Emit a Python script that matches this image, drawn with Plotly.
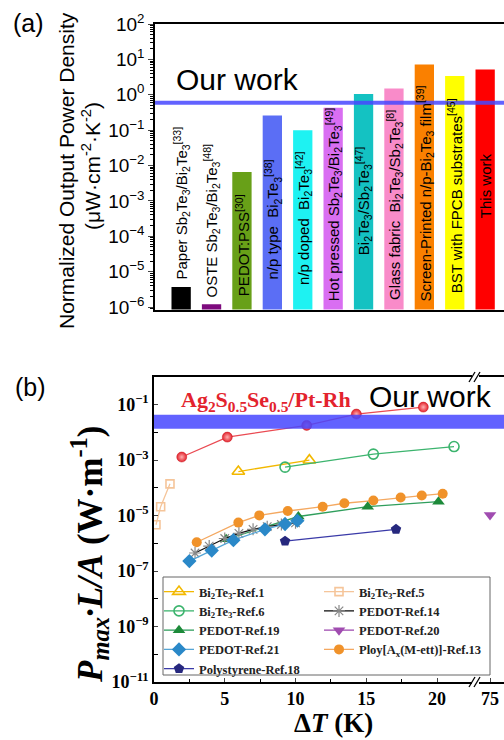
import plotly.graph_objects as go

W, H = 504, 740
def px(x): return x / W
def py(y): return 1 - y / H

SANS = "Liberation Sans, Arial, sans-serif"
SERIF = "Liberation Serif, Times New Roman, serif"

# ---------------- Panel (a) data ----------------
bar_values = [3.7e-6, 1.2e-6, 6.6e-3, 0.26, 0.10, 0.43, 1.05, 1.5, 7.2, 3.4, 5.2]
bar_labels = [
    "Paper Sb<sub>2</sub>Te<sub>3</sub>/Bi<sub>2</sub>Te<sub>3</sub><sup>[33]</sup>",
    "OSTE Sb<sub>2</sub>Te<sub>3</sub>/Bi<sub>2</sub>Te<sub>3</sub><sup>[48]</sup>",
    "PEDOT:PSS<sup>[30]</sup>",
    "n/p type\u00a0 Bi<sub>2</sub>Te<sub>3</sub><sup>[38]</sup>",
    "n/p doped\u00a0 Bi<sub>2</sub>Te<sub>3</sub><sup>[42]</sup>",
    "Hot pressed Sb<sub>2</sub>Te<sub>3</sub>/Bi<sub>2</sub>Te<sub>3</sub><sup>[49]</sup>",
    "Bi<sub>2</sub>Te<sub>3</sub>/Sb<sub>2</sub>Te<sub>3</sub><sup>[47]</sup>",
    "Glass fabric\u00a0 Bi<sub>2</sub>Te<sub>3</sub>/Sb<sub>2</sub>Te<sub>3</sub><sup>[8]</sup>",
    "Screen-Printed n/p-Bi<sub>2</sub>Te<sub>3</sub> film<sup>[39]</sup>",
    "BST with FPCB substrates<sup>[45]</sup>",
    "This work",
]
bar_colors = ["#000000", "#7d0a7d", "#68a018", "#5b6ef5", "#1ef2f2", "#d96ef2",
              "#14c2c2", "#f98bc9", "#fa8000", "#ffff00", "#ff0000"]
# layout: log10 of where each rotated label starts (bottom)
label_base_exp = [-5.29, -5.80, -5.75, -5.27, -5.44, -5.89, -4.59, -5.86, -5.89, -5.66, -2.58]
our_work_a = 0.59
a_tick_exp = [-6, -5, -4, -3, -2, -1, 0, 1, 2]

# ---------------- Panel (b) data ----------------
ag_x = [1.96, 5.18, 10.79, 14.3, 19.03]
ag_y = [1.3e-3, 6.8e-3, 1.8e-2, 4.6e-2, 8.2e-2]
ref1_x = [5.96, 10.98]
ref1_y = [3.9e-4, 1.0e-3]
ref5_x = [0.14, 0.47, 1.13]
ref5_y = [4.7e-6, 2.1e-5, 1.4e-4]
ref6_x = [9.26, 15.5, 21.2]
ref6_y = [5.6e-4, 1.66e-3, 3.1e-3]
ref14_x = [2.9, 3.9, 5.0, 6.0, 7.0, 8.0, 9.0, 10.0]
ref14_y = [4.5e-7, 8e-7, 1.5e-6, 2.3e-6, 3.2e-6, 4e-6, 4.8e-6, 5.5e-6]
ref19_x = [5.1, 10.2, 15.1, 20.1]
ref19_y = [1.4e-6, 9.3e-6, 2.1e-5, 3.2e-5]
ref20_x = [75]
ref20_y = [1.05e-5]
ref21_x = [2.5, 4.08, 5.61, 7.84, 9.26, 10.13]
ref21_y = [2.3e-7, 5.5e-7, 1.3e-6, 3.2e-6, 5e-6, 6.6e-6]
ref13_x = [3.02, 5.96, 7.44, 9.45, 11.92, 13.45, 15.5, 17.43, 18.92, 20.4]
ref13_y = [1.1e-6, 5.6e-6, 1.02e-5, 1.47e-5, 2.1e-5, 2.8e-5, 3.5e-5, 4.5e-5, 5.3e-5, 6.2e-5]
ref18_x = [9.26, 17.1]
ref18_y = [1.2e-6, 3.2e-6]
our_work_b = 0.0245
b_tick_exp = [-11, -9, -7, -5, -3, -1]
b_xticks = [0, 5, 10, 15, 20]
b_xticks_break = [75]

fig = go.Figure()

# ---- bars (a)
fig.add_trace(go.Bar(x=list(range(len(bar_values))), y=bar_values, width=0.635,
                     marker=dict(color=bar_colors, line=dict(width=0)),
                     xaxis="x", yaxis="y", showlegend=False))

# ---- scatter (b)
def sc(x, y, name, color, symbol, size=9, lcolor=None, legend="legend",
       xaxis="x2", mline=None, showlegend=True, gradient=None):
    m = dict(symbol=symbol, size=size, color=color,
             line=mline if mline else dict(color=color, width=1.6))
    if gradient:
        m["gradient"] = gradient
    return go.Scatter(x=x, y=y, name=name, mode="lines+markers", xaxis=xaxis, yaxis="y2",
                      line=dict(color=lcolor or color, width=1.3), marker=m,
                      legend=legend, showlegend=showlegend)

fig.add_trace(sc(ref18_x, ref18_y, "Polystyrene-Ref.18", "#26287e", "pentagon", size=11,
                 lcolor="#3a3aa8", mline=dict(width=0)))
fig.add_trace(sc(ref5_x, ref5_y, "Bi<sub>2</sub>Te<sub>3</sub>-Ref.5", "#f5c59a", "square-open",
                 size=8, legend="legend2"))
fig.add_trace(sc(ref13_x, ref13_y, "Ploy[A<sub>x</sub>(M-ett)]-Ref.13", "#f0922a", "circle",
                 size=10, lcolor="#f4a860", mline=dict(width=0), legend="legend2"))
fig.add_trace(sc(ref19_x, ref19_y, "PEDOT-Ref.19", "#1d8a3a", "triangle-up", size=11,
                 lcolor="#2f9e5c", mline=dict(width=0)))
fig.add_trace(sc(ref14_x, ref14_y, "PEDOT-Ref.14", "#888888", "asterisk-open", size=10,
                 lcolor="#111111", mline=dict(color="#8a8a8a", width=1.2), legend="legend2"))
fig.add_trace(sc(ref21_x, ref21_y, "PEDOT-Ref.21", "#2a88c8", "diamond", size=11,
                 lcolor="#55a5d5", mline=dict(width=0)))
fig.add_trace(sc(ref20_x, ref20_y, "PEDOT-Ref.20", "#a04cb0", "triangle-down", size=11,
                 mline=dict(width=0), legend="legend2", xaxis="x3"))
fig.add_trace(sc(ref1_x, ref1_y, "Bi<sub>2</sub>Te<sub>3</sub>-Ref.1", "#f2b800", "triangle-up-open",
                 size=11))
fig.add_trace(sc(ref6_x, ref6_y, "Bi<sub>2</sub>Te<sub>3</sub>-Ref.6", "#3cb46e", "circle-open",
                 size=10))
fig.add_trace(sc(ag_x, ag_y, "Ag2S0.5Se0.5/Pt-Rh", "#e3222c", "circle", size=10,
                 lcolor="#ea4a52", mline=dict(color="#c81820", width=0.5), showlegend=False,
                 gradient=dict(type="radial", color="#ffb0b0")))

rank1 = {"Bi<sub>2</sub>Te<sub>3</sub>-Ref.1": 1, "Bi<sub>2</sub>Te<sub>3</sub>-Ref.6": 2,
         "PEDOT-Ref.19": 3, "PEDOT-Ref.21": 4, "Polystyrene-Ref.18": 5,
         "Bi<sub>2</sub>Te<sub>3</sub>-Ref.5": 1, "PEDOT-Ref.14": 2, "PEDOT-Ref.20": 3,
         "Ploy[A<sub>x</sub>(M-ett)]-Ref.13": 4}
for tr in fig.data:
    if tr.name in rank1:
        tr.legendrank = rank1[tr.name]

ticktext_a = [f"10<sup>{'−' if e < 0 else ''}{abs(e)}</sup>" for e in a_tick_exp]
ticktext_b = [f"10<sup>−{abs(e)}</sup>" for e in b_tick_exp]
minor_a = [m * 10.0 ** e for e in range(-7, 2) for m in range(2, 10)]
minor_b = [10.0 ** e for e in (-10, -8, -6, -4, -2)]

axfont_a = dict(family=SANS, size=19, color="black")
axfont_b = dict(family=SERIF, size=18, color="black", weight="bold")
legfont = dict(family=SERIF, size=12.5, color="#222", weight="bold")

fig.update_layout(
    width=W, height=H, margin=dict(l=0, r=0, t=0, b=0, pad=0),
    paper_bgcolor="white", plot_bgcolor="white",
    xaxis=dict(domain=[px(155), 1], range=[-0.86, 10.62], showticklabels=False, ticks="",
               showgrid=False, zeroline=False, showline=True, linecolor="black", linewidth=1.5,
               mirror=True, anchor="y", automargin=False),
    yaxis=dict(domain=[py(309.5), py(24)], type="log", range=[-6.07, 2.0], tickmode="array",
               tickvals=[10.0 ** e for e in a_tick_exp], ticktext=ticktext_a,
               ticks="outside", ticklen=5, tickwidth=1.2, tickfont=axfont_a,
               showgrid=False, zeroline=False, showline=True, linecolor="black", linewidth=1.5,
               minor=dict(tickmode="array", tickvals=minor_a, ticks="outside", ticklen=3,
                          tickwidth=0.8, tickcolor="black"),
               anchor="x", automargin=False),
    xaxis2=dict(domain=[px(154), px(472)], range=[0, 22.47], tickmode="array", tickvals=b_xticks,
                ticks="inside", ticklen=4, tickfont=axfont_b, showgrid=False, zeroline=False,
                showline=True, linecolor="black", linewidth=1.5, mirror=True, anchor="y2",
                minor=dict(tickmode="array", tickvals=[2.5, 7.5, 12.5, 17.5], ticks="inside",
                           ticklen=3, tickcolor="black"), automargin=False),
    xaxis3=dict(domain=[px(479), 1], range=[74.22, 75.99], tickmode="array", tickvals=b_xticks_break,
                ticks="inside", ticklen=4, tickfont=axfont_b, showgrid=False, zeroline=False,
                showline=True, linecolor="black", linewidth=1.5, mirror=True, anchor="y2",
                automargin=False),
    yaxis2=dict(domain=[py(682), py(377)], type="log", range=[-11, 0], tickmode="array",
                tickvals=[10.0 ** e for e in b_tick_exp], ticktext=ticktext_b,
                ticks="inside", ticklen=4, tickfont=axfont_b, showgrid=False, zeroline=False,
                showline=True, linecolor="black", linewidth=1.5, anchor="x2",
                minor=dict(tickmode="array", tickvals=minor_b, ticks="inside", ticklen=4,
                           tickcolor="black"), automargin=False),
    legend=dict(x=px(159), y=py(577), xanchor="left", yanchor="top", bgcolor="rgba(0,0,0,0)",
                font=legfont, itemwidth=30, tracegroupgap=0, traceorder="normal"),
    legend2=dict(x=px(319), y=py(577), xanchor="left", yanchor="top", bgcolor="rgba(0,0,0,0)",
                 font=legfont, itemwidth=30, tracegroupgap=0, traceorder="normal"),
)

shapes = []
shapes.append(dict(type="line", xref="paper", yref="y", x0=px(155), x1=1, y0=our_work_a, y1=our_work_a,
                   line=dict(color="rgba(70,70,255,0.85)", width=4)))
shapes.append(dict(type="line", xref="paper", yref="y2", x0=px(154), x1=1, y0=our_work_b, y1=our_work_b,
                   line=dict(color="rgba(70,70,255,0.85)", width=14)))
shapes.append(dict(type="rect", xref="paper", yref="paper", x0=px(163), x1=px(490), y0=py(675), y1=py(577),
                   line=dict(color="#666", width=1)))
for yy in (377, 682):
    for dx in (0, 5):
        shapes.append(dict(type="line", xref="paper", yref="paper",
                           x0=px(469 + dx), x1=px(475 + dx), y0=py(yy + 5), y1=py(yy - 5),
                           line=dict(color="black", width=1.3)))
fig.update_layout(shapes=shapes)

def A(x, y, text, size, family=SANS, angle=0, color="black", weight=None, xanchor="center"):
    f = dict(family=family, size=size, color=color)
    if weight:
        f["weight"] = weight
    return dict(x=px(x), y=py(y), xref="paper", yref="paper", text=text, showarrow=False,
                textangle=angle, xanchor=xanchor, yanchor="middle", font=f)

ann = []
for i, lab in enumerate(bar_labels):
    ann.append(dict(x=i, y=label_base_exp[i], xref="x", yref="y", text=lab, showarrow=False,
                    textangle=-90, xanchor="center",
                    yanchor="middle" if lab == "This work" else "bottom",
                    font=dict(family=SANS, size=15, color="black")))
ann += [
    A(28, 23, "(a)", 25),
    A(30, 387, "(b)", 25),
    A(67, 171, "Normalized Output Power Density", 21, angle=-90),
    A(91, 166, "(μW·cm<sup>-2</sup>·K<sup>-2</sup>)", 21, angle=-90),
    A(237, 79, "Our work", 30),
    A(430, 397, "Our work", 30),
    A(179, 401, "Ag<sub>2</sub>S<sub>0.5</sub>Se<sub>0.5</sub>/Pt-Rh", 22, family=SERIF,
      color="#e3232d", weight="bold", xanchor="left"),
    A(89, 555, "<b><i>P</i><sub><i>max</i></sub><i>·L/A</i> (W·m<sup>-1</sup>)</b>", 35,
      family=SERIF, angle=-90),
    A(333, 723, "<b>Δ<i>T</i> (K)</b>", 27, family=SERIF),
]
fig.update_layout(annotations=ann)

fig.write_html("out.html")
